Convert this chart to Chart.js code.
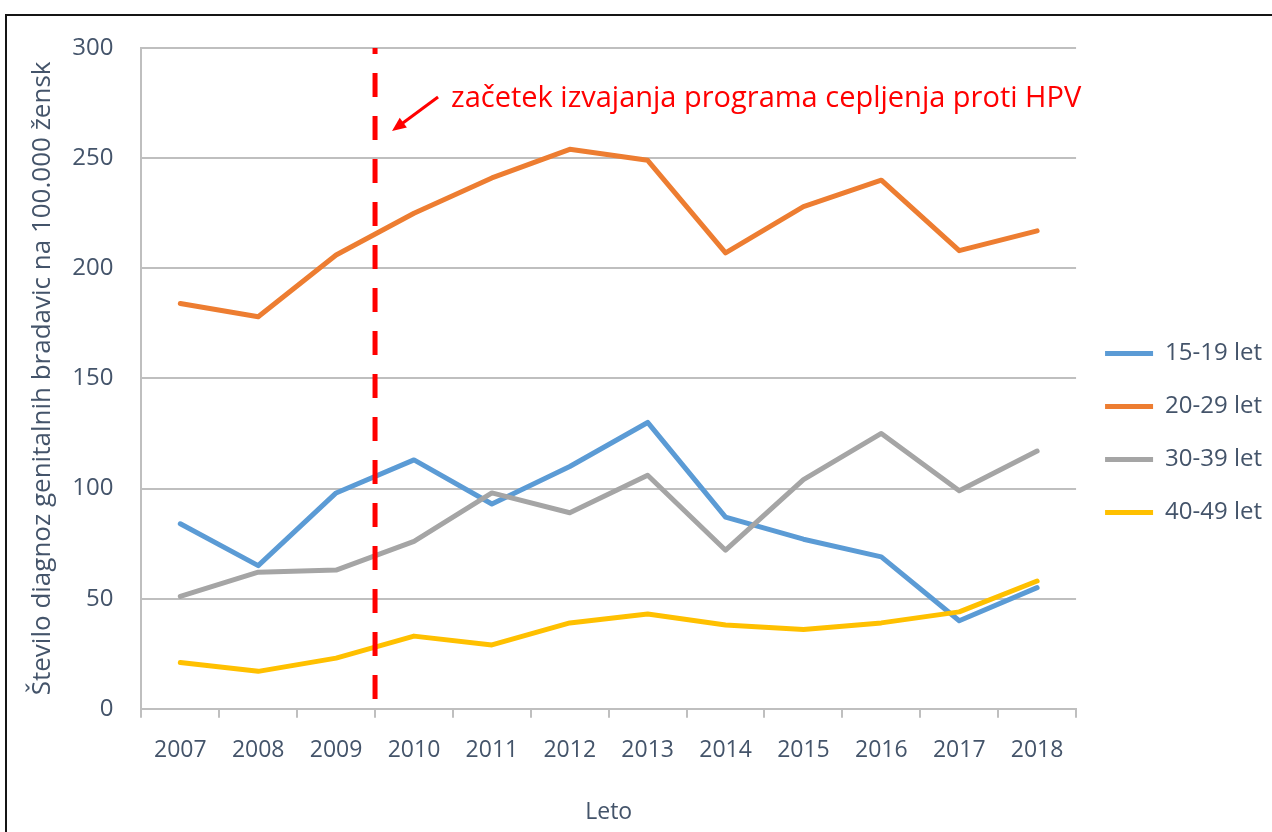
<!DOCTYPE html>
<html>
<head>
<meta charset="utf-8">
<script src="https://cdn.jsdelivr.net/npm/chart.js@4/dist/chart.umd.min.js"></script>
<style>
  html, body { margin: 0; padding: 0; background: #fff; overflow: hidden; }
  #wrap { position: relative; width: 1272px; height: 832px; }
  #frame { position: absolute; left: 5px; top: 14px; width: 1400px; height: 1000px;
           border: 2px solid #151515; pointer-events: none; }
  canvas { position: absolute; left: 0; top: 0; }
</style>
</head>
<body>
<div id="wrap">
  <canvas id="chart" width="1272" height="832"></canvas>
  <div id="frame"></div>
</div>
<script>
// Podatki
const leta = ['2007', '2008', '2009', '2010', '2011', '2012', '2013', '2014', '2015', '2016', '2017', '2018'];
const starost15_19 = [84, 65, 98, 113, 93, 110, 130, 87, 77, 69, 40, 55];
const starost20_29 = [184, 178, 206, 225, 241, 254, 249, 207, 228, 240, 208, 217];
const starost30_39 = [51, 62, 63, 76, 98, 89, 106, 72, 104, 125, 99, 117];
const starost40_49 = [21, 17, 23, 33, 29, 39, 43, 38, 36, 39, 44, 58];
const yTicks = [0, 50, 100, 150, 200, 250, 300];

const textColor = '#44546A';
const fontFamily = '"Open Sans", "Noto Sans", sans-serif';

// navpična črta med 2009 in 2010 + besedilo s puščico
const hpvMarker = {
    id: 'hpvMarker',
    afterLayout(chart) {
        // legenda malo višje, kot v originalu
        chart.legend.top -= 6;
        chart.legend.bottom -= 7;
    },
    afterDatasetsDraw(chart) {
        const { ctx, chartArea, scales } = chart;
        const x = (scales.x.getPixelForValue(2) + scales.x.getPixelForValue(3)) / 2;
        ctx.save();
        ctx.strokeStyle = '#FF0000';
        ctx.lineWidth = 5;
        ctx.setLineDash([24, 19]);
        ctx.lineDashOffset = 18;
        ctx.beginPath();
        ctx.moveTo(x, chartArea.top);
        ctx.lineTo(x, chartArea.bottom);
        ctx.stroke();
        ctx.setLineDash([]);

        // puščica
        const x1 = x + 63, y1 = 97, x2 = x + 17, y2 = 131;
        const ang = Math.atan2(y2 - y1, x2 - x1);
        ctx.lineWidth = 3;
        ctx.beginPath();
        ctx.moveTo(x1, y1);
        ctx.lineTo(x2 - 8 * Math.cos(ang), y2 - 8 * Math.sin(ang));
        ctx.stroke();
        ctx.fillStyle = '#FF0000';
        ctx.beginPath();
        ctx.moveTo(x2, y2);
        ctx.lineTo(x2 - 14 * Math.cos(ang) + 6 * Math.sin(ang), y2 - 14 * Math.sin(ang) - 6 * Math.cos(ang));
        ctx.lineTo(x2 - 14 * Math.cos(ang) - 6 * Math.sin(ang), y2 - 14 * Math.sin(ang) + 6 * Math.cos(ang));
        ctx.closePath();
        ctx.fill();

        ctx.font = '29px ' + fontFamily;
        ctx.textBaseline = 'middle';
        ctx.textAlign = 'left';
        ctx.fillText('začetek izvajanja programa cepljenja proti HPV', x + 76, 99);
        ctx.restore();
    }
};

const mkDataset = (label, data, color, order) => ({
    label: label,
    data: data,
    borderColor: color,
    backgroundColor: color,
    borderWidth: 5,
    pointRadius: 0,
    tension: 0,
    fill: false,
    order: order,
    borderCapStyle: 'round',
    borderJoinStyle: 'round',
});

const ctx = document.getElementById('chart').getContext('2d');
new Chart(ctx, {
    type: 'line',
    data: {
        labels: leta,
        datasets: [
            mkDataset('15-19 let', starost15_19, '#5B9BD5', 4),
            mkDataset('20-29 let', starost20_29, '#ED7D31', 3),
            mkDataset('30-39 let', starost30_39, '#A5A5A5', 2),
            mkDataset('40-49 let', starost40_49, '#FFC000', 1),
        ],
    },
    options: {
        responsive: false,
        animation: false,
        layout: {
            padding: { top: 48, right: 0, bottom: 1, left: 27 },
        },
        plugins: {
            legend: {
                display: true,
                position: 'right',
                labels: {
                    color: textColor,
                    font: { family: fontFamily, size: 24 },
                    boxWidth: 48,
                    boxHeight: 5,
                    padding: 29,
                    sort: (a, b) => a.datasetIndex - b.datasetIndex,
                    generateLabels(chart) {
                        const items = Chart.defaults.plugins.legend.labels.generateLabels(chart);
                        return items.map(it => Object.assign(it, { lineWidth: 0 }));
                    },
                },
            },
            tooltip: { enabled: false },
        },
        scales: {
            x: {
                offset: true,
                grid: {
                    offset: true,
                    drawOnChartArea: false,
                    drawTicks: true,
                    tickLength: 9,
                    color: '#BFBFBF',
                    lineWidth: 2,
                },
                border: { color: '#BFBFBF', width: 2 },
                ticks: {
                    color: textColor,
                    font: { family: fontFamily, size: 23 },
                    padding: 19,
                    maxRotation: 0,
                },
                title: {
                    display: true,
                    text: 'Leto',
                    color: textColor,
                    font: { family: fontFamily, size: 23 },
                    padding: { top: 15, bottom: 5 },
                },
            },
            y: {
                min: 0,
                max: 300,
                afterBuildTicks: axis => { axis.ticks = yTicks.map(v => ({ value: v })); },
                grid: {
                    drawTicks: true,
                    tickLength: 24,
                    tickColor: 'rgba(0,0,0,0)',
                    color: '#BFBFBF',
                    lineWidth: 2,
                },
                border: { color: '#BFBFBF', width: 2 },
                ticks: {
                    color: textColor,
                    font: { family: fontFamily, size: 24 },
                    padding: 4,
                },
                title: {
                    display: true,
                    text: 'Število diagnoz genitalnih bradavic na 100.000 žensk',
                    color: textColor,
                    font: { family: fontFamily, size: 26 },
                    padding: { top: 0, bottom: 10 },
                },
            },
        },
    },
    plugins: [hpvMarker],
});
</script>
</body>
</html>
